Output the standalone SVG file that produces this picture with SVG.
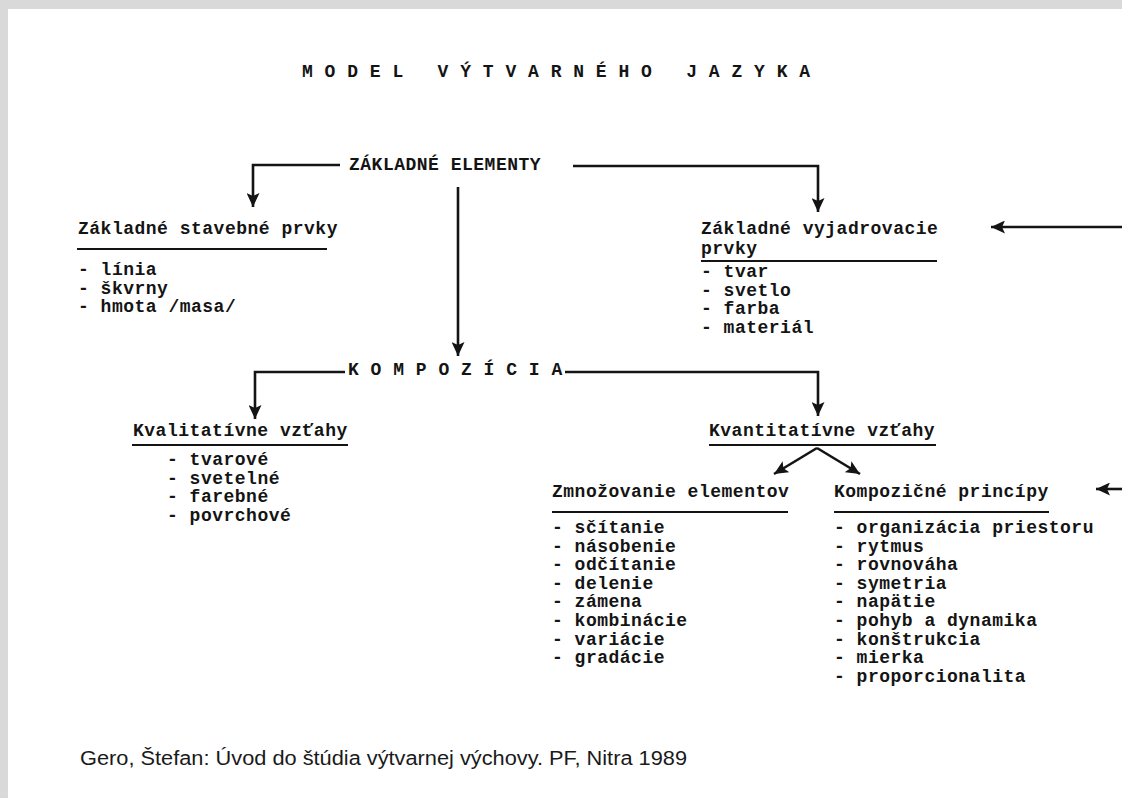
<svg xmlns="http://www.w3.org/2000/svg" width="1122" height="798" viewBox="0 0 1122 798">
<defs>
<style>
.t{font-family:"Liberation Mono","DejaVu Sans Mono",monospace;font-weight:bold;font-size:18px;letter-spacing:0.5px;fill:#141414}
.f{font-family:"Liberation Sans",Arial,sans-serif;font-size:20px;fill:#1a1a1a}
.u{stroke:#141414;stroke-width:2.2;fill:none}
.c{stroke:#141414;stroke-width:2.6;fill:none;marker-end:url(#ah)}
</style>
<marker id="ah" markerUnits="userSpaceOnUse" markerWidth="15" markerHeight="13" refX="14" refY="6.5" orient="auto">
<path d="M0,0 L14,6.5 L0,13 L3,6.5 z" fill="#141414"/>
</marker>
</defs>
<rect x="0" y="0" width="1122" height="798" fill="#d9d9d9"/>
<rect x="8" y="9" width="1114" height="789" fill="#ffffff"/>

<g id="title">
<text class="t" x="302" y="77" xml:space="preserve">M O D E L   V Ý T V A R N É H O   J A Z Y K A</text>
</g>

<g id="connectors">
<path class="c" d="M340,165 H253 V207"/>
<path class="c" d="M573,166 H818 V212"/>
<path class="c" d="M458,187 V356"/>
<path class="c" d="M1122,227 H991"/>
<path class="c" d="M345,372 H255 V419"/>
<path class="c" d="M565,372 H818 V416"/>
<path class="c" d="M817,448 L774,474"/>
<path class="c" d="M817,448 L860,474"/>
<path class="c" d="M1122,489 H1096"/>
</g>

<g id="zakladne-elementy">
<text class="t" x="349" y="170">ZÁKLADNÉ ELEMENTY</text>
</g>

<g id="stavebne-prvky">
<text class="t" x="78" y="234">Základné stavebné prvky</text>
<line class="u" x1="77" y1="249" x2="327" y2="249"/>
<text class="t" x="78" y="275">- línia</text>
<text class="t" x="78" y="293.5">- škvrny</text>
<text class="t" x="78" y="312">- hmota /masa/</text>
</g>

<g id="vyjadrovacie-prvky">
<text class="t" x="701" y="234">Základné vyjadrovacie</text>
<text class="t" x="701" y="254">prvky</text>
<line class="u" x1="701" y1="261" x2="937" y2="261"/>
<text class="t" x="701" y="277">- tvar</text>
<text class="t" x="701" y="295.5">- svetlo</text>
<text class="t" x="701" y="314">- farba</text>
<text class="t" x="701" y="332.5">- materiál</text>
</g>

<g id="kompozicia">
<text class="t" x="348" y="375" xml:space="preserve">K O M P O Z Í C I A</text>
</g>

<g id="kvalitativne">
<text class="t" x="133" y="436">Kvalitatívne vzťahy</text>
<line class="u" x1="132" y1="445" x2="348" y2="445"/>
<text class="t" x="167" y="465">- tvarové</text>
<text class="t" x="167" y="483.5">- svetelné</text>
<text class="t" x="167" y="502">- farebné</text>
<text class="t" x="167" y="520.5">- povrchové</text>
</g>

<g id="kvantitativne">
<text class="t" x="709" y="436">Kvantitatívne vzťahy</text>
<line class="u" x1="709" y1="445" x2="936" y2="445"/>
</g>

<g id="zmnozovanie">
<text class="t" x="552" y="497">Zmnožovanie elementov</text>
<line class="u" x1="552" y1="512" x2="788" y2="512"/>
<text class="t" x="552" y="533">- sčítanie</text>
<text class="t" x="552" y="551.6">- násobenie</text>
<text class="t" x="552" y="570.2">- odčítanie</text>
<text class="t" x="552" y="588.8">- delenie</text>
<text class="t" x="552" y="607.4">- zámena</text>
<text class="t" x="552" y="626">- kombinácie</text>
<text class="t" x="552" y="644.6">- variácie</text>
<text class="t" x="552" y="663.2">- gradácie</text>
</g>

<g id="kompozicne-principy">
<text class="t" x="834" y="497">Kompozičné princípy</text>
<line class="u" x1="834" y1="512" x2="1049" y2="512"/>
<text class="t" x="834" y="533">- organizácia priestoru</text>
<text class="t" x="834" y="551.6">- rytmus</text>
<text class="t" x="834" y="570.2">- rovnováha</text>
<text class="t" x="834" y="588.8">- symetria</text>
<text class="t" x="834" y="607.4">- napätie</text>
<text class="t" x="834" y="626">- pohyb a dynamika</text>
<text class="t" x="834" y="644.6">- konštrukcia</text>
<text class="t" x="834" y="663.2">- mierka</text>
<text class="t" x="834" y="681.8">- proporcionalita</text>
</g>

<g id="source">
<text class="f" x="80" y="765" textLength="607" lengthAdjust="spacingAndGlyphs">Gero, Štefan: Úvod do štúdia výtvarnej výchovy. PF, Nitra 1989</text>
</g>
</svg>
